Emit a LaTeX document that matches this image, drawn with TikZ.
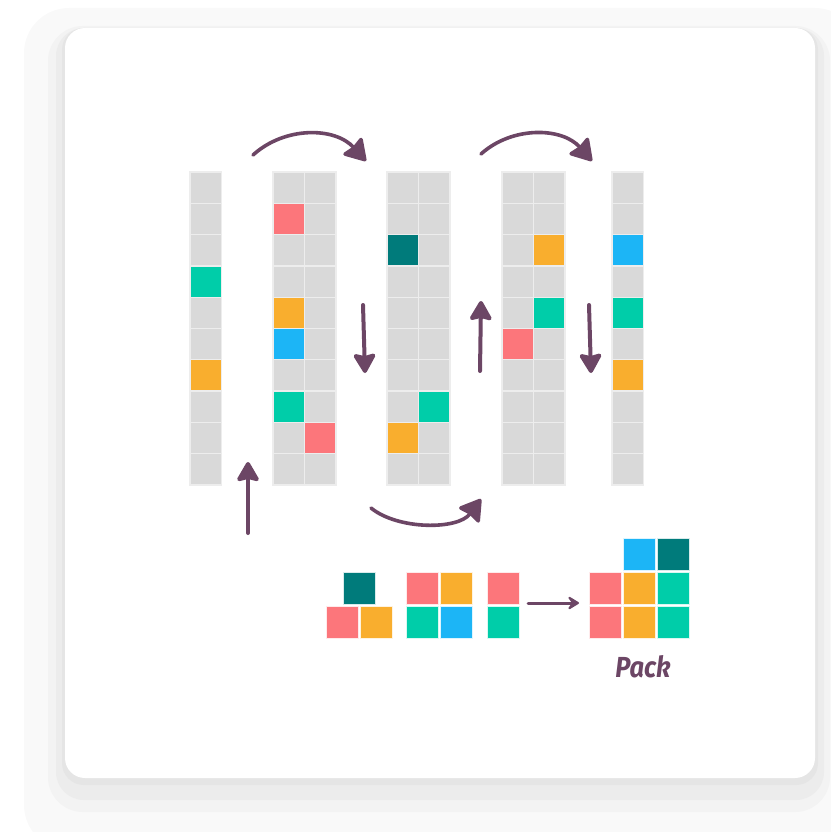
\documentclass[tikz,border=0pt]{standalone}
\usepackage{fontspec}
\usetikzlibrary{arrows.meta}
\newfontfamily\handfont{Fira Sans}
\definecolor{cgray}{HTML}{D9D9D9}
\definecolor{cline}{HTML}{EDEDED}
\definecolor{cpink}{HTML}{FC767B}
\definecolor{corange}{HTML}{F9AE2E}
\definecolor{cgreen}{HTML}{00CDA9}
\definecolor{cblue}{HTML}{1CB5F6}
\definecolor{cteal}{HTML}{007B7B}
\definecolor{carrow}{HTML}{6C4665}
\definecolor{sh1}{HTML}{F9F9F9}
\definecolor{sh2}{HTML}{F3F3F3}
\definecolor{sh3}{HTML}{ECECEC}
\definecolor{sh4}{HTML}{E5E5E5}
\tikzset{
  cellbox/.style={fill=#1, draw=cline, line width=1.3pt},
  blockbox/.style={fill=#1, draw=white!85!#1, line width=0.8pt},
  bigarrow/.style={draw=carrow, line width=4pt, line cap=round,
    -{Stealth[length=22pt,width=25pt,inset=3pt,round]}},
  curvearrow/.style={draw=carrow, line width=3.6pt, line cap=round,
    -{Stealth[length=23pt,width=28pt,inset=2pt,round]}},
  smallarrow/.style={draw=carrow, line width=3pt, line cap=round,
    -{Stealth[length=14pt,width=17pt,inset=6pt,round]}},
}
\newcommand\gcell[4]{\path[cellbox=#4] ({#1+(#2)*31.5},{172+(#3)*31.3}) rectangle ++(31.5,31.3);}
\newcommand\gcol[2]{\foreach \cc in {1,...,#2}{\foreach \rr in {0,...,9}{\gcell{#1}{\cc-1}{\rr}{cgray}}}}
\newcommand\blk[3]{\path[blockbox=#3] (#1,#2) rectangle ++(32,32);}
\begin{document}
\begin{tikzpicture}[x=1pt,y=-1pt]
\useasboundingbox (0,0) rectangle (830,832);
% card with soft shadow
\fill[sh1, rounded corners=45pt] (24,8) rectangle (860,850);
\fill[sh2, rounded corners=35pt] (48,26) rectangle (830,812);
\fill[sh3, rounded corners=28pt] (56,28) rectangle (824,800);
\fill[sh4, rounded corners=22pt] (62,28) rectangle (818,785);
\fill[white, rounded corners=20pt] (65,28) rectangle (815,778);
% grid columns
\gcol{190}{1}
\gcol{273}{2}
\gcol{387}{2}
\gcol{502}{2}
\gcol{612}{1}
% column 1
\gcell{190}{0}{3}{cgreen}
\gcell{190}{0}{6}{corange}
% column 2
\gcell{273}{0}{1}{cpink}
\gcell{273}{0}{4}{corange}
\gcell{273}{0}{5}{cblue}
\gcell{273}{0}{7}{cgreen}
\gcell{273}{1}{8}{cpink}
% column 3
\gcell{387}{0}{2}{cteal}
\gcell{387}{1}{7}{cgreen}
\gcell{387}{0}{8}{corange}
% column 4
\gcell{502}{1}{2}{corange}
\gcell{502}{1}{4}{cgreen}
\gcell{502}{0}{5}{cpink}
% column 5
\gcell{612}{0}{2}{cblue}
\gcell{612}{0}{4}{cgreen}
\gcell{612}{0}{6}{corange}
% arrow end points
\coordinate (a1s) at (253,155); \coordinate (a1e) at (366,161);
\coordinate (a2s) at (481,154); \coordinate (a2e) at (592,161);
\coordinate (a3s) at (371,508); \coordinate (a3e) at (481,499);
\coordinate (u1s) at (248,533); \coordinate (u1e) at (248,462);
\coordinate (d1s) at (363,305); \coordinate (d1e) at (365,373);
\coordinate (u2s) at (480,371); \coordinate (u2e) at (481,301);
\coordinate (d2s) at (589,305); \coordinate (d2e) at (591,373);
\coordinate (hs) at (528,603); \coordinate (he) at (579,603);
% arrows
\draw[curvearrow] (a1s) .. controls (285,126) and (335,127) .. (a1e);
\draw[curvearrow] (a2s) .. controls (512,126) and (562,127) .. (a2e);
\draw[curvearrow] (a3s) .. controls (398,530) and (458,530) .. (a3e);
\draw[bigarrow] (u1s) -- (u1e);
\draw[bigarrow] (d1s) -- (d1e);
\draw[bigarrow] (u2s) -- (u2e);
\draw[bigarrow] (d2s) -- (d2e);
\draw[smallarrow] (hs) -- (he);
% bottom blocks
\blk{343}{572}{cteal}
\blk{326}{606}{cpink}
\blk{360}{606}{corange}
\blk{406}{572}{cpink}
\blk{440}{572}{corange}
\blk{406}{606}{cgreen}
\blk{440}{606}{cblue}
\blk{487}{572}{cpink}
\blk{487}{606}{cgreen}
% packed
\blk{623}{538}{cblue}
\blk{657}{538}{cteal}
\blk{589}{572}{cpink}
\blk{623}{572}{corange}
\blk{657}{572}{cgreen}
\blk{589}{606}{cpink}
\blk{623}{606}{corange}
\blk{657}{606}{cgreen}
\node[text=carrow, font=\handfont\bfseries\itshape\fontsize{29}{29}\selectfont, xscale=0.88] (pack) at (643,667) {Pack};
\end{tikzpicture}
\end{document}
